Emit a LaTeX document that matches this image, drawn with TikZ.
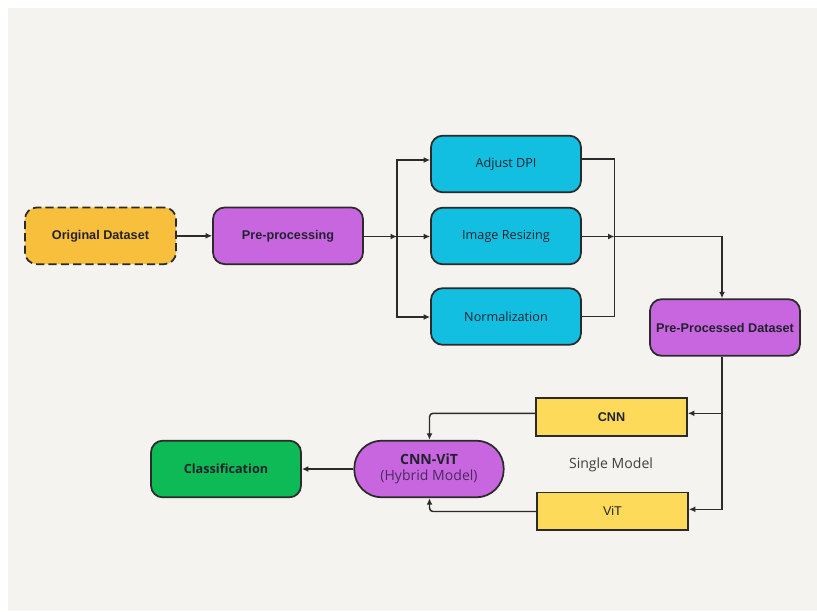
\documentclass[tikz,border=0pt]{standalone}
\usepackage{fontspec}
\setmainfont{Liberation Sans}
\newfontfamily\osans{Open Sans}
\usetikzlibrary{arrows.meta}

\definecolor{panel}{HTML}{F4F3EF}
\definecolor{inkline}{HTML}{2B2B2B}
\definecolor{inktext}{HTML}{22222E}
\definecolor{amber}{HTML}{F8BF3C}
\definecolor{violet}{HTML}{C866E0}
\definecolor{aqua}{HTML}{12BFE1}
\definecolor{butter}{HTML}{FDDA5A}
\definecolor{leaf}{HTML}{0EBA55}

\tikzset{
  box/.style={draw=inkline, line width=1.5pt, rounded corners=10pt,
    minimum width=4.5cm, minimum height=1.7cm, inner sep=0pt,
    text=inktext, font=\fontsize{10.8}{13}\selectfont\bfseries},
  softbox/.style={box, font=\osans\fontsize{10.8}{13}\selectfont},
  flatbox/.style={draw=inkline, line width=1.5pt, minimum width=4.53cm,
    minimum height=1.13cm, inner sep=0pt, text=inktext},
  link/.style={draw=inkline, line width=1.25pt, line join=miter},
  arr/.style={link, -{Latex[length=5.5pt,width=5pt]}},
}

\begin{document}
\begin{tikzpicture}[x=0.03cm, y=-0.03cm]
  % canvas
  \useasboundingbox (0,0) rectangle (817,611);
  \fill[white] (0,0) rectangle (817,611);
  \fill[panel] (8,8) rectangle (817,611);

  % input and preprocessing
  \node[box, fill=amber, dashed, dash pattern=on 7pt off 3.5pt,
        minimum width=4.53cm] (orig) at (100.5,235.8) {Original Dataset};
  \node[box, fill=violet] (pre) at (288,235.8) {Pre-processing};

  % preprocessing steps
  \node[softbox, fill=aqua] (dpi) at (506,164) {Adjust DPI};
  \node[softbox, fill=aqua] (resize) at (506,236) {Image Resizing};
  \node[softbox, fill=aqua] (norm) at (506,316.5) {Normalization};

  \node[box, fill=violet] (ppd) at (725,327.5) {Pre-Processed Dataset};

  % single models
  \node[flatbox, fill=butter, font=\fontsize{10.8}{13}\selectfont\bfseries] (cnn) at (611.5,417) {CNN};
  \node[flatbox, fill=butter, font=\fontsize{10.8}{13}\selectfont] (vit) at (612.5,511.3) {ViT};
  \node[text=black!75, font=\osans\fontsize{12}{14}\selectfont] (single) at (611,465) {Single Model};

  % hybrid model and output
  \node[box, fill=violet, rounded corners=23.5pt, minimum width=4.48cm,
        align=center, font=\osans\fontsize{12}{15}\selectfont] (hyb) at (429,469)
        {\textbf{CNN-ViT}\\[-1pt]{\color[HTML]{4A2A60}(Hybrid Model)}};
  \node[box, fill=leaf, font=\osans\fontsize{10.8}{13}\selectfont\bfseries] (cls) at (226,469) {Classification};

  % junction points
  \coordinate (jin) at (397,236.5);
  \coordinate (jtop) at (397,160);
  \coordinate (jbot) at (397,317);
  \coordinate (jout) at (614.5,236.5);
  \coordinate (otop) at (614.5,159);
  \coordinate (obot) at (614.5,316.5);
  \coordinate (drop) at (722,236.5);
  \coordinate (split) at (722,413.3);
  \coordinate (splitb) at (722,509.3);
  \coordinate (mergeT) at (429.5,413.3);
  \coordinate (mergeB) at (429.5,511.5);

  % fan-out to the preprocessing steps
  \draw[arr] (orig.east |- pre) -- (pre.west);
  \draw[arr] (pre.east |- jin) -- (jin);
  \draw[arr] (jin) -- (resize.west |- jin);
  \draw[arr] (jin) -- (jtop) -- (dpi.west |- jtop);
  \draw[arr] (jin) -- (jbot) -- (norm.west |- jbot);

  % fan-in to the pre-processed dataset
  \draw[link] (dpi.east |- otop) -- (otop) -- (obot) -- (norm.east |- obot);
  \draw[arr] (resize.east |- jout) -- (jout);
  \draw[arr] (jout) -- (drop) -- (ppd.north -| drop);

  % split into the single models
  \draw[arr] (ppd.south -| split) -- (split) -- (cnn.east |- split);
  \draw[arr] (split) -- (splitb) -- (vit.east |- splitb);

  % merge into the hybrid model
  \draw[arr, rounded corners=3pt] (cnn.west |- mergeT) -- (mergeT) -- (hyb.north -| mergeT);
  \draw[arr, rounded corners=3pt] (vit.west |- mergeB) -- (mergeB) -- (hyb.south -| mergeB);

  \draw[arr] (hyb.west) -- (cls.east);
\end{tikzpicture}
\end{document}
